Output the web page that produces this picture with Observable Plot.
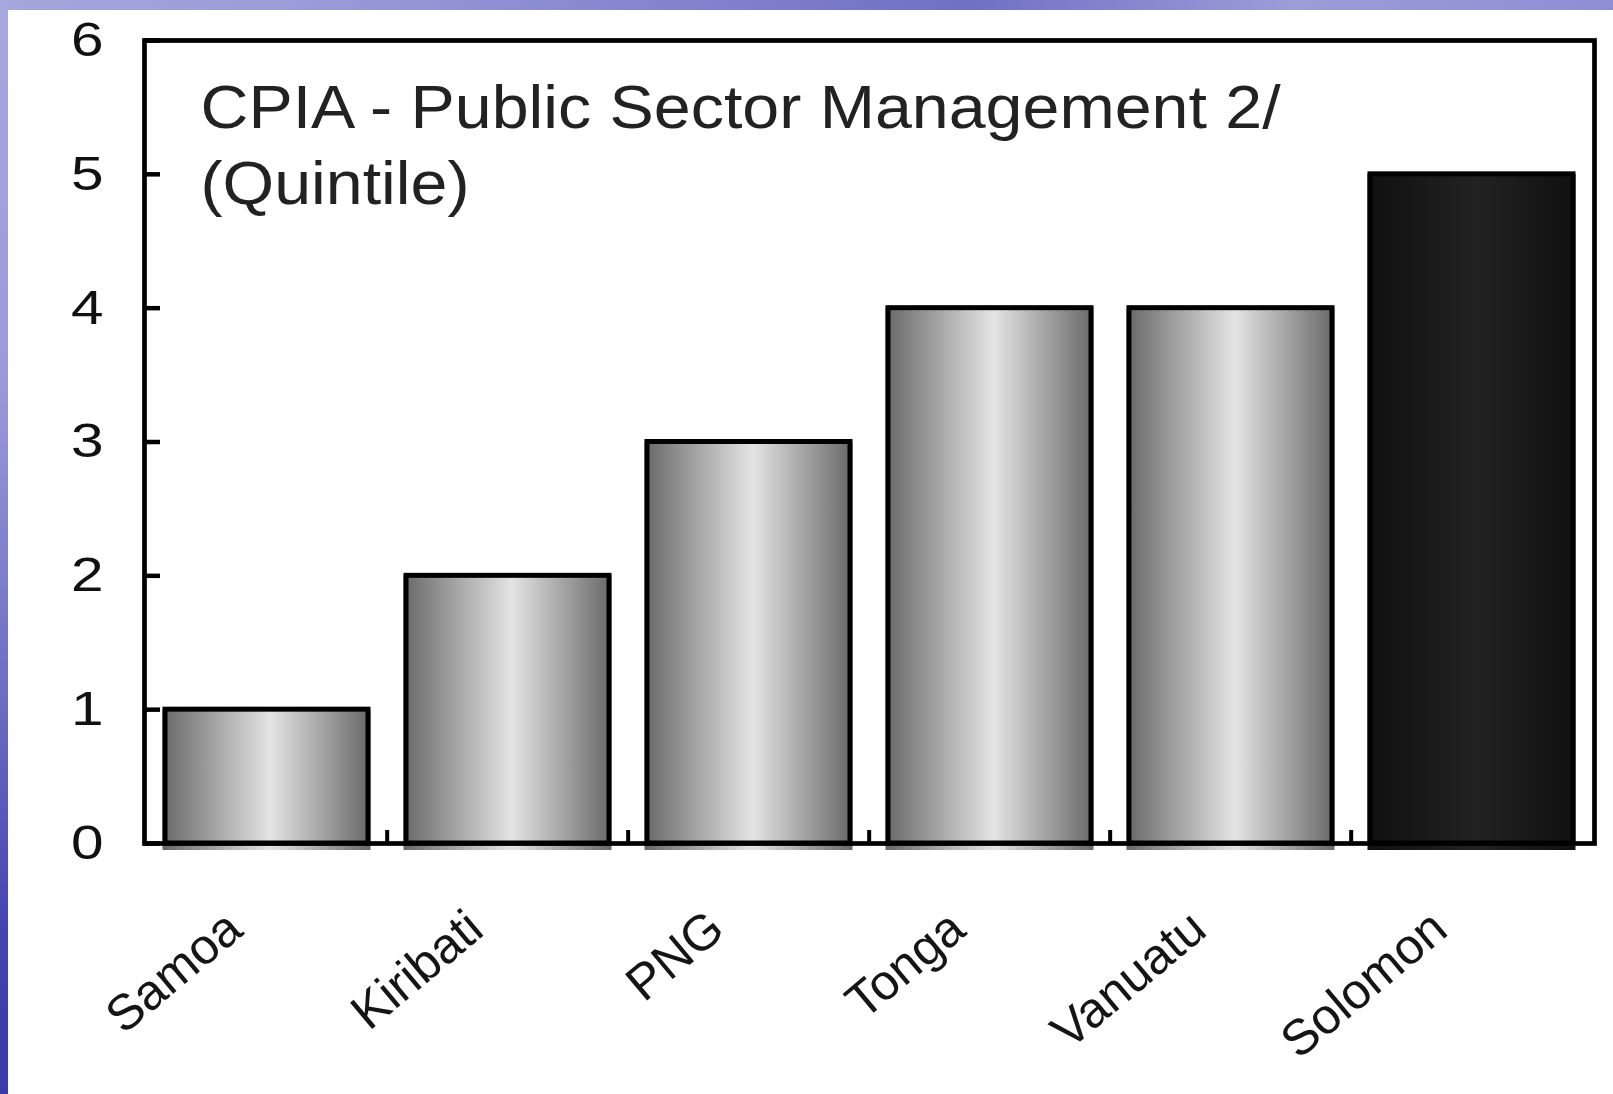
<!DOCTYPE html>
<html><head><meta charset="utf-8">
<script src="https://cdn.jsdelivr.net/npm/d3@7"></script>
<script src="https://cdn.jsdelivr.net/npm/@observablehq/plot@0.6"></script>
<style>
html,body{margin:0;padding:0;background:#fff;width:1613px;height:1094px;overflow:hidden;}
#wrap{position:relative;width:1613px;height:1094px;}
#chart{position:absolute;left:0;top:0;}
#topstrip{position:absolute;left:0;top:0;width:1613px;height:10px;z-index:2;
  background:linear-gradient(90deg,#a6a6de 0%,#9a9ad8 20%,#8080cc 45%,#7070c4 60%,#9c9cd8 80%,#8e8ed4 100%);}
#leftstrip{position:absolute;left:0;top:0;width:8px;height:1094px;z-index:2;
  background:linear-gradient(180deg,#a8a8de 0%,#9a9ad8 35%,#6a6ac0 65%,#4444b0 85%,#3a3aa8 100%);}
</style></head><body>
<div id="wrap"><div id="chart"></div><div id="topstrip"></div><div id="leftstrip"></div></div>
<script>
const categories = ["Samoa", "Kiribati", "PNG", "Tonga", "Vanuatu", "Solomon"];
const values = [1, 2, 3, 4, 4, 5];
const yTicks = [0, 1, 2, 3, 4, 5, 6];
const titleText = "CPIA - Public Sector Management 2/\n(Quintile)";
const highlighted = ["Solomon"];
const data = categories.map((name, i) => ({name, value: values[i]}));

const W = 1613, H = 1094, mL = 144, mR = 19, mT = 40, mB = 251;
const step = (W - mL - mR) / categories.length;

const defs = () => {
  const d = d3.create("svg:defs");
  const g1 = d.append("linearGradient").attr("id", "gLight").attr("x1", 0).attr("x2", 1).attr("y1", 0).attr("y2", 0);
  [[0, "#686868"], [0.52, "#e4e4e4"], [1, "#686868"]].forEach(([o, c]) => g1.append("stop").attr("offset", o).attr("stop-color", c));
  const g2 = d.append("linearGradient").attr("id", "gDark").attr("x1", 0).attr("x2", 1).attr("y1", 0).attr("y2", 0);
  [[0, "#101010"], [0.52, "#222222"], [1, "#101010"]].forEach(([o, c]) => g2.append("stop").attr("offset", o).attr("stop-color", c));
  return d.node();
};

const chart = Plot.plot({
  width: W, height: H,
  marginLeft: mL, marginRight: mR, marginTop: mT, marginBottom: mB,
  style: {background: "transparent", fontFamily: "'Liberation Sans', Arial, sans-serif", color: "#111"},
  x: {domain: categories, paddingInner: 0.156, paddingOuter: 0.078, label: null},
  y: {domain: [0, 6], label: null},
  marks: [
    defs,
    Plot.barY(data, {filter: d => !highlighted.includes(d.name), x: "name", y: "value", fill: "url(#gLight)", insetBottom: -7, insetLeft: -2.5, insetRight: -2.5}),
    Plot.barY(data, {filter: d => highlighted.includes(d.name), x: "name", y: "value", fill: "url(#gDark)", insetBottom: -7, insetLeft: -2.5, insetRight: -2.5}),
    Plot.barY(data, {x: "name", y: "value", fill: "none", stroke: "#000", strokeWidth: 5}),
    Plot.frame({stroke: "#000", strokeWidth: 4.7}),
    Plot.axisY(yTicks, {tickSize: 16, dx: 16, tickFormat: () => "", label: null, stroke: "#000", strokeWidth: 4.5}),
    Plot.axisY(yTicks, {tickSize: 0, tickPadding: 41, tickFormat: d3.format("d"), label: null, fontSize: 48, color: "#111"}),
    Plot.axisX(categories.slice(1), {tickSize: 13, dy: -13, dx: -step / 2, tickFormat: () => "", label: null, stroke: "#000", strokeWidth: 4}),
    Plot.text(data, {x: "name", frameAnchor: "bottom", text: "name", rotate: -40, textAnchor: "end", lineAnchor: "bottom", dx: -22, dy: 90, fontSize: 50, fill: "#151515"}),
    Plot.text([titleText], {frameAnchor: "top-left", text: d => d, lineAnchor: "top", textAnchor: "start", dx: 56, dy: 34, fontSize: 62, lineHeight: 1.226, fill: "#222"})
  ]
});
document.getElementById("chart").appendChild(chart);

// horizontal stretch of text glyphs about an edge, as in the reference rendering
function stretch(sel, sx, fromRight) {
  sel.each(function () {
    const b = this.getBBox();
    const ax = fromRight ? b.x + b.width : b.x;
    const t = this.getAttribute("transform") || "";
    this.setAttribute("transform", `${t} translate(${ax},0) scale(${sx},1) translate(${-ax},0)`.trim());
  });
}
const texts = d3.select(chart).selectAll("text");
stretch(texts.filter(function () { return /^\d$/.test(this.textContent.trim()); }), 1.22, true);
stretch(texts.filter(function () { return this.textContent.startsWith("CPIA"); }), 1.07, false);
</script>
</body></html>
